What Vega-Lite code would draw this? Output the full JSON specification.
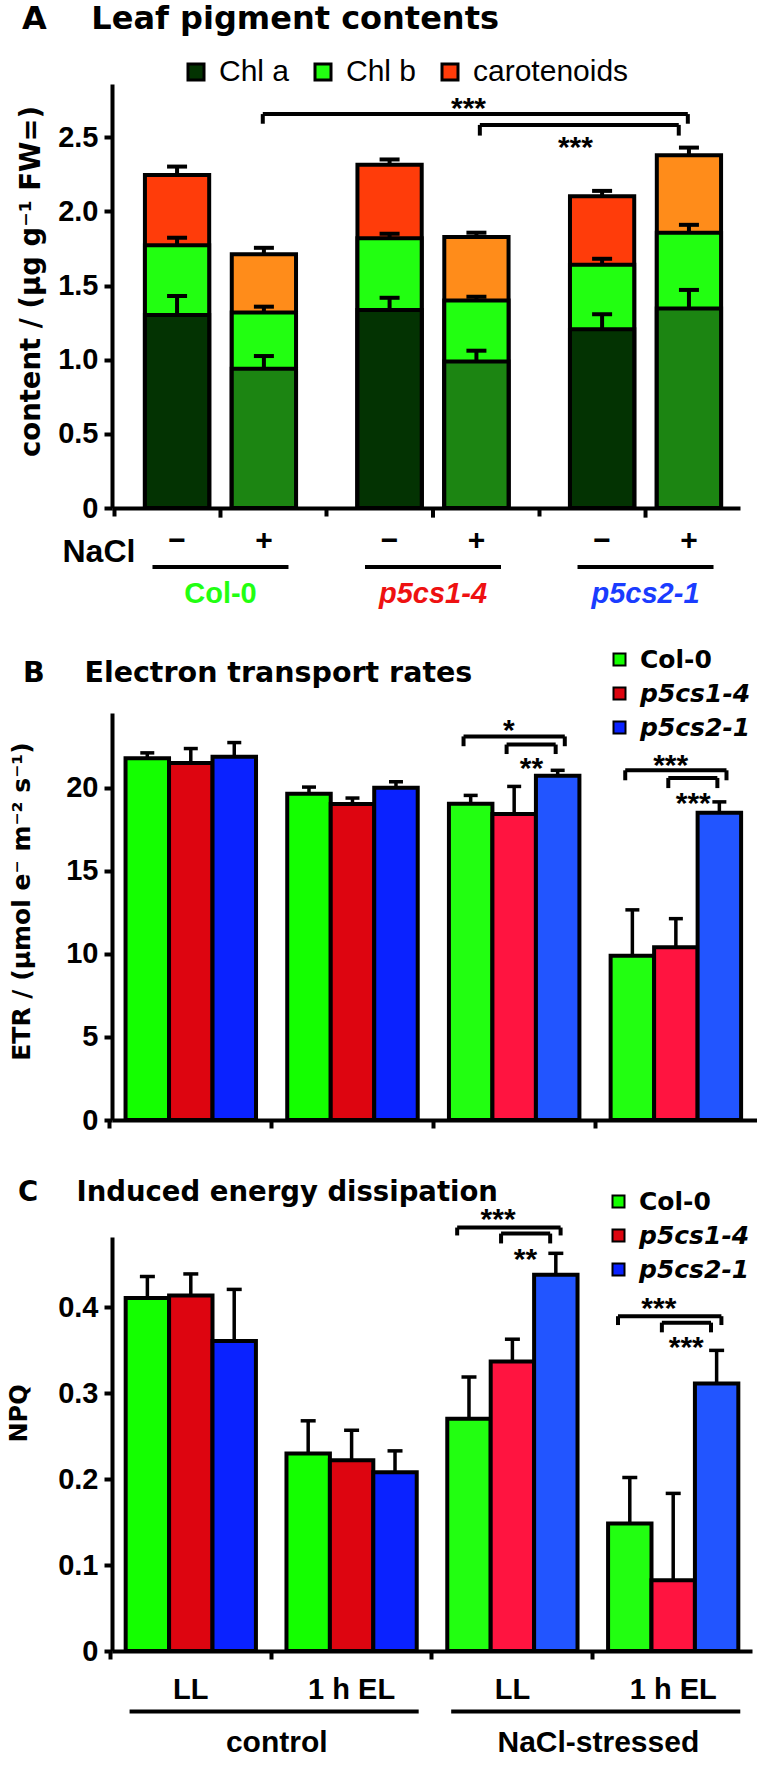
{
  "$schema": "https://vega.github.io/schema/vega-lite/v6.json",
  "background": "white",
  "padding": {"left": 7, "top": 3, "right": 0, "bottom": 0},
  "spacing": 38,
  "resolve": {"scale": {"color": "independent", "fill": "independent", "xOffset": "independent", "x": "independent", "y": "independent"}, "legend": {"color": "independent", "fill": "independent"}},
  "config": {
    "view": {"stroke": null},
    "axis": {"domainColor": "black", "domainWidth": 4, "tickColor": "black", "tickWidth": 4, "tickSize": 8, "labelFont": "Liberation Sans", "labelFontWeight": "bold", "labelFontSize": 29, "labelColor": "black", "labelPadding": 6, "titleFont": "DejaVu Sans", "titleFontWeight": "bold", "titleColor": "black", "grid": false},
    "legend": {"labelLimit": 0},
    "title": {"font": "DejaVu Sans", "fontWeight": "bold", "color": "black", "anchor": "start", "frame": "group", "baseline": "alphabetic"}
  },
  "datasets": {
    "pig": [
      {"genotype": "Col-0", "nacl": "−", "pigment": "carotenoids", "cum": 2.247, "hi": 2.303},
      {"genotype": "Col-0", "nacl": "−", "pigment": "Chl b", "cum": 1.772, "hi": 1.823},
      {"genotype": "Col-0", "nacl": "−", "pigment": "Chl a", "cum": 1.302, "hi": 1.430},
      {"genotype": "Col-0", "nacl": "+", "pigment": "carotenoids", "cum": 1.712, "hi": 1.755},
      {"genotype": "Col-0", "nacl": "+", "pigment": "Chl b", "cum": 1.319, "hi": 1.358},
      {"genotype": "Col-0", "nacl": "+", "pigment": "Chl a", "cum": 0.940, "hi": 1.025},
      {"genotype": "p5cs1-4", "nacl": "−", "pigment": "carotenoids", "cum": 2.315, "hi": 2.351},
      {"genotype": "p5cs1-4", "nacl": "−", "pigment": "Chl b", "cum": 1.820, "hi": 1.850},
      {"genotype": "p5cs1-4", "nacl": "−", "pigment": "Chl a", "cum": 1.336, "hi": 1.418},
      {"genotype": "p5cs1-4", "nacl": "+", "pigment": "carotenoids", "cum": 1.828, "hi": 1.857},
      {"genotype": "p5cs1-4", "nacl": "+", "pigment": "Chl b", "cum": 1.399, "hi": 1.425},
      {"genotype": "p5cs1-4", "nacl": "+", "pigment": "Chl a", "cum": 0.989, "hi": 1.061},
      {"genotype": "p5cs2-1", "nacl": "−", "pigment": "carotenoids", "cum": 2.103, "hi": 2.139},
      {"genotype": "p5cs2-1", "nacl": "−", "pigment": "Chl b", "cum": 1.640, "hi": 1.681},
      {"genotype": "p5cs2-1", "nacl": "−", "pigment": "Chl a", "cum": 1.206, "hi": 1.307},
      {"genotype": "p5cs2-1", "nacl": "+", "pigment": "carotenoids", "cum": 2.380, "hi": 2.431},
      {"genotype": "p5cs2-1", "nacl": "+", "pigment": "Chl b", "cum": 1.857, "hi": 1.910},
      {"genotype": "p5cs2-1", "nacl": "+", "pigment": "Chl a", "cum": 1.346, "hi": 1.471}
    ],
    "genos": [{"genotype": "Col-0"}, {"genotype": "p5cs1-4"}, {"genotype": "p5cs2-1"}],
    "etr": [
      {"cond": "control LL", "stress": "control", "genotype": "Col-0", "v": 21.78, "hi": 22.10},
      {"cond": "control LL", "stress": "control", "genotype": "p5cs1-4", "v": 21.49, "hi": 22.36},
      {"cond": "control LL", "stress": "control", "genotype": "p5cs2-1", "v": 21.87, "hi": 22.72},
      {"cond": "control 1 h EL", "stress": "control", "genotype": "Col-0", "v": 19.64, "hi": 20.04},
      {"cond": "control 1 h EL", "stress": "control", "genotype": "p5cs1-4", "v": 19.02, "hi": 19.38},
      {"cond": "control 1 h EL", "stress": "control", "genotype": "p5cs2-1", "v": 20.00, "hi": 20.36},
      {"cond": "NaCl LL", "stress": "NaCl", "genotype": "Col-0", "v": 19.04, "hi": 19.54},
      {"cond": "NaCl LL", "stress": "NaCl", "genotype": "p5cs1-4", "v": 18.42, "hi": 20.08},
      {"cond": "NaCl LL", "stress": "NaCl", "genotype": "p5cs2-1", "v": 20.73, "hi": 21.05},
      {"cond": "NaCl 1 h EL", "stress": "NaCl", "genotype": "Col-0", "v": 9.89, "hi": 12.65},
      {"cond": "NaCl 1 h EL", "stress": "NaCl", "genotype": "p5cs1-4", "v": 10.40, "hi": 12.12},
      {"cond": "NaCl 1 h EL", "stress": "NaCl", "genotype": "p5cs2-1", "v": 18.49, "hi": 19.15}
    ],
    "npq": [
      {"cond": "control LL", "stress": "control", "genotype": "Col-0", "v": 0.411, "hi": 0.436},
      {"cond": "control LL", "stress": "control", "genotype": "p5cs1-4", "v": 0.414, "hi": 0.439},
      {"cond": "control LL", "stress": "control", "genotype": "p5cs2-1", "v": 0.361, "hi": 0.421},
      {"cond": "control 1 h EL", "stress": "control", "genotype": "Col-0", "v": 0.230, "hi": 0.268},
      {"cond": "control 1 h EL", "stress": "control", "genotype": "p5cs1-4", "v": 0.222, "hi": 0.257},
      {"cond": "control 1 h EL", "stress": "control", "genotype": "p5cs2-1", "v": 0.208, "hi": 0.233},
      {"cond": "NaCl LL", "stress": "NaCl", "genotype": "Col-0", "v": 0.2705, "hi": 0.319},
      {"cond": "NaCl LL", "stress": "NaCl", "genotype": "p5cs1-4", "v": 0.337, "hi": 0.363},
      {"cond": "NaCl LL", "stress": "NaCl", "genotype": "p5cs2-1", "v": 0.438, "hi": 0.463},
      {"cond": "NaCl 1 h EL", "stress": "NaCl", "genotype": "Col-0", "v": 0.1485, "hi": 0.202},
      {"cond": "NaCl 1 h EL", "stress": "NaCl", "genotype": "p5cs1-4", "v": 0.0824, "hi": 0.1835},
      {"cond": "NaCl 1 h EL", "stress": "NaCl", "genotype": "p5cs2-1", "v": 0.3115, "hi": 0.350}
    ],
    "brA": [
      {"id": "o", "g1": "Col-0", "g2": "p5cs2-1", "sg": "p5cs1-4", "top": 2.657, "leg": 2.592, "star": "***", "sy": 2.633},
      {"id": "i", "g1": "p5cs1-4", "g2": "p5cs2-1", "sg": "p5cs2-1", "top": 2.584, "leg": 2.512, "star": "***", "sy": 2.368}
    ],
    "brB": [
      {"id": "o", "cond": "NaCl LL", "top": 23.09, "leg": 22.5, "star": "*", "sy": 22.86},
      {"id": "i", "cond": "NaCl LL", "top": 22.6, "leg": 22.03, "star": "**", "sy": 20.57},
      {"id": "o", "cond": "NaCl 1 h EL", "top": 21.05, "leg": 20.45, "star": "***", "sy": 20.75},
      {"id": "i", "cond": "NaCl 1 h EL", "top": 20.59, "leg": 19.98, "star": "***", "sy": 18.46}
    ],
    "brC": [
      {"id": "o", "cond": "NaCl LL", "top": 0.493, "leg": 0.4838, "star": "***", "sy": 0.491},
      {"id": "i", "cond": "NaCl LL", "top": 0.486, "leg": 0.4745, "star": "**", "sy": 0.445},
      {"id": "o", "cond": "NaCl 1 h EL", "top": 0.3898, "leg": 0.3795, "star": "***", "sy": 0.3877},
      {"id": "i", "cond": "NaCl 1 h EL", "top": 0.3823, "leg": 0.371, "star": "***", "sy": 0.342}
    ],
    "grp": [
      {"c1": "control LL", "c2": "control 1 h EL", "label": "control"},
      {"c1": "NaCl LL", "c2": "NaCl 1 h EL", "label": "NaCl-stressed"}
    ]
  },
  "vconcat": [
    {
      "width": 628,
      "height": 424,
      "title": {"text": "A\u00a0\u00a0\u00a0\u00a0Leaf pigment contents", "fontSize": 32, "dx": -90, "offset": 21},
      "layer": [
        {
          "data": {"name": "pig"},
          "transform": [{"filter": "datum.nacl == '−'"}],
          "mark": {"type": "bar", "stroke": "black", "strokeWidth": 4},
          "encoding": {
            "x": {"field": "genotype", "type": "nominal", "scale": {"domain": ["Col-0", "p5cs1-4", "p5cs2-1"], "paddingInner": 0.289, "paddingOuter": 0.122, "align": 0.635},
                  "axis": {"title": "NaCl", "labels": false, "bandPosition": -0.2036, "titleFont": "Liberation Sans", "titleFontSize": 32, "titleX": -50, "titleY": 43, "titleAlign": "left", "titleBaseline": "middle", "titleAnchor": "start"}},
            "xOffset": {"field": "nacl", "type": "nominal", "scale": {"domain": ["−", "+"], "paddingInner": 0.26, "paddingOuter": 0}},
            "y": {"field": "cum", "type": "quantitative", "stack": null, "scale": {"domain": [0, 2.86], "nice": false},
                  "axis": {"title": "content / (µg g⁻¹ FW=)", "values": [0, 0.5, 1, 1.5, 2, 2.5], "labelExpr": "datum.value == 0 ? '0' : format(datum.value, '.1f')", "titleFontSize": 27.5, "titleX": -81, "titleY": 197, "titleBaseline": "middle", "titleAlign": "center"}},
            "color": {"field": "pigment", "type": "nominal", "scale": {"domain": ["Chl a", "Chl b", "carotenoids"], "range": ["#033302", "#22ff11", "#ff3c0a"]},
                      "legend": {"title": null, "orient": "none", "direction": "horizontal", "legendX": 69, "legendY": -27, "labelFont": "Liberation Sans", "labelFontSize": 30, "labelFontWeight": "normal", "labelColor": "black", "symbolType": "square", "symbolSize": 256, "symbolStrokeColor": "black", "symbolStrokeWidth": 3, "symbolOpacity": 1, "columnPadding": 18, "labelOffset": 8}}
          }
        },
        {
          "data": {"name": "pig"},
          "transform": [{"filter": "datum.nacl == '+'"}],
          "mark": {"type": "bar", "stroke": "black", "strokeWidth": 4},
          "encoding": {
            "x": {"field": "genotype", "type": "nominal"},
            "xOffset": {"field": "nacl", "type": "nominal"},
            "y": {"field": "cum", "type": "quantitative", "stack": null},
            "fill": {"field": "pigment", "type": "nominal", "scale": {"domain": ["Chl a", "Chl b", "carotenoids"], "range": ["#1c8512", "#22ff11", "#ff8c1a"]}, "legend": null}
          }
        },
        {
          "data": {"name": "pig"},
          "mark": {"type": "rule", "strokeWidth": 4, "color": "black"},
          "encoding": {
            "x": {"field": "genotype", "type": "nominal"},
            "xOffset": {"field": "nacl", "type": "nominal"},
            "y": {"field": "cum", "type": "quantitative"},
            "y2": {"field": "hi"}
          }
        },
        {
          "data": {"name": "pig"},
          "mark": {"type": "tick", "thickness": 4, "size": 20, "color": "black", "opacity": 1},
          "encoding": {
            "x": {"field": "genotype", "type": "nominal"},
            "xOffset": {"field": "nacl", "type": "nominal"},
            "y": {"field": "hi", "type": "quantitative"}
          }
        },
        {
          "data": {"name": "genos"},
          "mark": {"type": "rule", "strokeWidth": 4, "color": "black"},
          "encoding": {
            "x": {"field": "genotype", "type": "nominal"},
            "y": {"datum": 0, "type": "quantitative"},
            "y2": {"datum": -0.065}
          }
        },
        {
          "data": {"name": "pig"},
          "transform": [{"filter": "datum.pigment == 'Chl a'"}],
          "mark": {"type": "text", "font": "Liberation Sans", "fontWeight": "bold", "fontSize": 30, "baseline": "middle", "color": "black"},
          "encoding": {
            "x": {"field": "genotype", "type": "nominal"},
            "xOffset": {"field": "nacl", "type": "nominal"},
            "y": {"datum": -0.225, "type": "quantitative"},
            "text": {"field": "nacl"}
          }
        },
        {
          "data": {"name": "genos"},
          "mark": {"type": "tick", "thickness": 4, "size": 136, "color": "black", "opacity": 1},
          "encoding": {
            "x": {"field": "genotype", "type": "nominal"},
            "y": {"datum": -0.398, "type": "quantitative"}
          }
        },
        {
          "data": {"name": "genos"},
          "mark": {"type": "text", "font": "Liberation Sans", "fontWeight": "bold", "fontSize": 29, "baseline": "middle", "fontStyle": {"expr": "datum.genotype == 'Col-0' ? 'normal' : 'italic'"}},
          "encoding": {
            "x": {"field": "genotype", "type": "nominal"},
            "y": {"datum": -0.58, "type": "quantitative"},
            "text": {"field": "genotype"},
            "color": {"condition": [{"test": "datum.genotype == 'Col-0'", "value": "#22ff11"}, {"test": "datum.genotype == 'p5cs1-4'", "value": "#ee1111"}], "value": "#1a3cff"}
          }
        },
        {
          "data": {"name": "brA"},
          "transform": [{"filter": "datum.id == 'o'"}],
          "mark": {"type": "rule", "strokeWidth": 4, "color": "black"},
          "encoding": {
            "x": {"field": "g1", "type": "nominal", "bandPosition": 0.78},
            "x2": {"field": "g2", "bandPosition": 0.78},
            "y": {"field": "top", "type": "quantitative"}
          }
        },
        {
          "data": {"name": "brA"},
          "transform": [{"filter": "datum.id == 'o'"}],
          "mark": {"type": "rule", "strokeWidth": 4, "color": "black"},
          "encoding": {
            "x": {"field": "g1", "type": "nominal", "bandPosition": 0.78},
            "y": {"field": "top", "type": "quantitative"},
            "y2": {"field": "leg"}
          }
        },
        {
          "data": {"name": "brA"},
          "transform": [{"filter": "datum.id == 'o'"}],
          "mark": {"type": "rule", "strokeWidth": 4, "color": "black"},
          "encoding": {
            "x": {"field": "g2", "type": "nominal", "bandPosition": 0.78},
            "y": {"field": "top", "type": "quantitative"},
            "y2": {"field": "leg"}
          }
        },
        {
          "data": {"name": "brA"},
          "transform": [{"filter": "datum.id == 'i'"}],
          "mark": {"type": "rule", "strokeWidth": 4, "color": "black"},
          "encoding": {
            "x": {"field": "g1", "type": "nominal", "bandPosition": 0.81},
            "x2": {"field": "g2", "bandPosition": 0.72},
            "y": {"field": "top", "type": "quantitative"}
          }
        },
        {
          "data": {"name": "brA"},
          "transform": [{"filter": "datum.id == 'i'"}],
          "mark": {"type": "rule", "strokeWidth": 4, "color": "black"},
          "encoding": {
            "x": {"field": "g1", "type": "nominal", "bandPosition": 0.81},
            "y": {"field": "top", "type": "quantitative"},
            "y2": {"field": "leg"}
          }
        },
        {
          "data": {"name": "brA"},
          "transform": [{"filter": "datum.id == 'i'"}],
          "mark": {"type": "rule", "strokeWidth": 4, "color": "black"},
          "encoding": {
            "x": {"field": "g2", "type": "nominal", "bandPosition": 0.72},
            "y": {"field": "top", "type": "quantitative"},
            "y2": {"field": "leg"}
          }
        },
        {
          "data": {"name": "brA"},
          "transform": [{"filter": "datum.id == 'o'"}],
          "mark": {"type": "text", "font": "Liberation Sans", "fontWeight": "bold", "fontSize": 30, "baseline": "alphabetic", "color": "black"},
          "encoding": {
            "x": {"field": "sg", "type": "nominal", "bandPosition": 0.735},
            "y": {"field": "sy", "type": "quantitative"},
            "text": {"field": "star"}
          }
        },
        {
          "data": {"name": "brA"},
          "transform": [{"filter": "datum.id == 'i'"}],
          "mark": {"type": "text", "font": "Liberation Sans", "fontWeight": "bold", "fontSize": 30, "baseline": "alphabetic", "color": "black"},
          "encoding": {
            "x": {"field": "sg", "type": "nominal", "bandPosition": 0.036},
            "y": {"field": "sy", "type": "quantitative"},
            "text": {"field": "star"}
          }
        }
      ]
    },
    {
      "width": 645,
      "height": 407,
      "title": {"text": "B\u00a0\u00a0\u00a0\u00a0Electron transport rates", "fontSize": 28.5, "dx": -89, "offset": -40},
      "layer": [
        {
          "data": {"name": "etr"},
          "transform": [{"filter": "datum.stress == 'control'"}],
          "mark": {"type": "bar", "stroke": "black", "strokeWidth": 4},
          "encoding": {
            "x": {"field": "cond", "type": "nominal", "scale": {"domain": ["control LL", "control 1 h EL", "NaCl LL", "NaCl 1 h EL"], "paddingInner": 0.193, "paddingOuter": 0.091, "align": 0.46},
                  "axis": {"title": "\u00a0", "titleFontSize": 8, "titlePadding": 2, "labels": false, "bandPosition": -0.1195}},
            "xOffset": {"field": "genotype", "type": "nominal", "scale": {"domain": ["Col-0", "p5cs1-4", "p5cs2-1"], "paddingInner": 0, "paddingOuter": 0}},
            "y": {"field": "v", "type": "quantitative", "stack": null, "scale": {"domain": [0, 24.5], "nice": false},
                  "axis": {"title": "ETR / (µmol e⁻ m⁻² s⁻¹)", "values": [0, 5, 10, 15, 20], "titleFontSize": 25, "titleX": -91, "titleY": 188, "titleBaseline": "middle", "titleAlign": "center"}},
            "color": {"field": "genotype", "type": "nominal", "scale": {"domain": ["Col-0", "p5cs1-4", "p5cs2-1"], "range": ["#14ff00", "#dd0510", "#0a22ff"]},
                      "legend": {"title": null, "orient": "none", "legendX": 495, "legendY": -66, "labelFont": "DejaVu Sans", "labelFontSize": 25, "labelFontWeight": "bold", "labelColor": "black", "symbolType": "square", "symbolSize": 144, "symbolStrokeColor": "black", "symbolStrokeWidth": 2, "symbolOpacity": 1, "rowPadding": 8, "labelOffset": 8,
                                 "encode": {"labels": {"update": {"fontStyle": {"signal": "datum.label == 'Col-0' ? 'normal' : 'italic'"}}}}}}
          }
        },
        {
          "data": {"name": "etr"},
          "transform": [{"filter": "datum.stress == 'NaCl'"}],
          "mark": {"type": "bar", "stroke": "black", "strokeWidth": 4},
          "encoding": {
            "x": {"field": "cond", "type": "nominal"},
            "xOffset": {"field": "genotype", "type": "nominal"},
            "y": {"field": "v", "type": "quantitative", "stack": null},
            "fill": {"field": "genotype", "type": "nominal", "scale": {"domain": ["Col-0", "p5cs1-4", "p5cs2-1"], "range": ["#22ff11", "#ff1440", "#2255ff"]}, "legend": null}
          }
        },
        {
          "data": {"name": "etr"},
          "mark": {"type": "rule", "strokeWidth": 3.5, "color": "black"},
          "encoding": {
            "x": {"field": "cond", "type": "nominal"},
            "xOffset": {"field": "genotype", "type": "nominal"},
            "y": {"field": "v", "type": "quantitative"},
            "y2": {"field": "hi"}
          }
        },
        {
          "data": {"name": "etr"},
          "mark": {"type": "tick", "thickness": 3.5, "size": 14, "color": "black", "opacity": 1},
          "encoding": {
            "x": {"field": "cond", "type": "nominal"},
            "xOffset": {"field": "genotype", "type": "nominal"},
            "y": {"field": "hi", "type": "quantitative"}
          }
        },
        {
          "data": {"name": "brB"},
          "transform": [{"filter": "datum.id == 'o'"}],
          "mark": {"type": "rule", "strokeWidth": 4, "color": "black"},
          "encoding": {
            "x": {"field": "cond", "type": "nominal", "bandPosition": 0.112},
            "x2": {"field": "cond", "bandPosition": 0.888},
            "y": {"field": "top", "type": "quantitative"}
          }
        },
        {
          "data": {"name": "brB"},
          "transform": [{"filter": "datum.id == 'o'"}],
          "mark": {"type": "rule", "strokeWidth": 4, "color": "black"},
          "encoding": {
            "x": {"field": "cond", "type": "nominal", "bandPosition": 0.112},
            "y": {"field": "top", "type": "quantitative"},
            "y2": {"field": "leg"}
          }
        },
        {
          "data": {"name": "brB"},
          "transform": [{"filter": "datum.id == 'o'"}],
          "mark": {"type": "rule", "strokeWidth": 4, "color": "black"},
          "encoding": {
            "x": {"field": "cond", "type": "nominal", "bandPosition": 0.888},
            "y": {"field": "top", "type": "quantitative"},
            "y2": {"field": "leg"}
          }
        },
        {
          "data": {"name": "brB"},
          "transform": [{"filter": "datum.id == 'i'"}],
          "mark": {"type": "rule", "strokeWidth": 4, "color": "black"},
          "encoding": {
            "x": {"field": "cond", "type": "nominal", "bandPosition": 0.442},
            "x2": {"field": "cond", "bandPosition": 0.818},
            "y": {"field": "top", "type": "quantitative"}
          }
        },
        {
          "data": {"name": "brB"},
          "transform": [{"filter": "datum.id == 'i'"}],
          "mark": {"type": "rule", "strokeWidth": 4, "color": "black"},
          "encoding": {
            "x": {"field": "cond", "type": "nominal", "bandPosition": 0.442},
            "y": {"field": "top", "type": "quantitative"},
            "y2": {"field": "leg"}
          }
        },
        {
          "data": {"name": "brB"},
          "transform": [{"filter": "datum.id == 'i'"}],
          "mark": {"type": "rule", "strokeWidth": 4, "color": "black"},
          "encoding": {
            "x": {"field": "cond", "type": "nominal", "bandPosition": 0.818},
            "y": {"field": "top", "type": "quantitative"},
            "y2": {"field": "leg"}
          }
        },
        {
          "data": {"name": "brB"},
          "transform": [{"filter": "datum.id == 'o'"}],
          "mark": {"type": "text", "font": "Liberation Sans", "fontWeight": "bold", "fontSize": 30, "baseline": "alphabetic", "color": "black"},
          "encoding": {
            "x": {"field": "cond", "type": "nominal", "bandPosition": 0.46},
            "y": {"field": "sy", "type": "quantitative"},
            "text": {"field": "star"}
          }
        },
        {
          "data": {"name": "brB"},
          "transform": [{"filter": "datum.id == 'i'"}],
          "mark": {"type": "text", "font": "Liberation Sans", "fontWeight": "bold", "fontSize": 30, "baseline": "alphabetic", "color": "black"},
          "encoding": {
            "x": {"field": "cond", "type": "nominal", "bandPosition": 0.633},
            "y": {"field": "sy", "type": "quantitative"},
            "text": {"field": "star"}
          }
        }
      ]
    },
    {
      "width": 640,
      "height": 414,
      "title": {"text": "C\u00a0\u00a0\u00a0\u00a0Induced energy dissipation", "fontSize": 27.5, "dx": -94, "offset": -17},
      "layer": [
        {
          "data": {"name": "npq"},
          "transform": [{"filter": "datum.stress == 'control'"}],
          "mark": {"type": "bar", "stroke": "black", "strokeWidth": 4},
          "encoding": {
            "x": {"field": "cond", "type": "nominal", "scale": {"domain": ["control LL", "control 1 h EL", "NaCl LL", "NaCl 1 h EL"], "paddingInner": 0.19, "paddingOuter": 0.085, "align": 0.5},
                  "axis": {"title": null, "labels": true, "labelAngle": 0, "bandPosition": -0.1176, "labelOffset": 0, "labelPadding": 16, "labelExpr": "replace(replace(datum.label, 'control ', ''), 'NaCl ', '')"}},
            "xOffset": {"field": "genotype", "type": "nominal", "scale": {"domain": ["Col-0", "p5cs1-4", "p5cs2-1"], "paddingInner": 0, "paddingOuter": 0}},
            "y": {"field": "v", "type": "quantitative", "stack": null, "scale": {"domain": [0, 0.482], "nice": false},
                  "axis": {"title": "NPQ", "values": [0, 0.1, 0.2, 0.3, 0.4], "labelExpr": "datum.value == 0 ? '0' : format(datum.value, '.1f')", "titleFontSize": 24, "titleX": -92.5, "titleY": 176, "titleBaseline": "middle", "titleAlign": "center"}},
            "color": {"field": "genotype", "type": "nominal", "scale": {"domain": ["Col-0", "p5cs1-4", "p5cs2-1"], "range": ["#14ff00", "#dd0510", "#0a22ff"]},
                      "legend": {"title": null, "orient": "none", "legendX": 494, "legendY": -48, "labelFont": "DejaVu Sans", "labelFontSize": 25, "labelFontWeight": "bold", "labelColor": "black", "symbolType": "square", "symbolSize": 144, "symbolStrokeColor": "black", "symbolStrokeWidth": 2, "symbolOpacity": 1, "rowPadding": 8, "labelOffset": 8,
                                 "encode": {"labels": {"update": {"fontStyle": {"signal": "datum.label == 'Col-0' ? 'normal' : 'italic'"}}}}}}
          }
        },
        {
          "data": {"name": "npq"},
          "transform": [{"filter": "datum.stress == 'NaCl'"}],
          "mark": {"type": "bar", "stroke": "black", "strokeWidth": 4},
          "encoding": {
            "x": {"field": "cond", "type": "nominal"},
            "xOffset": {"field": "genotype", "type": "nominal"},
            "y": {"field": "v", "type": "quantitative", "stack": null},
            "fill": {"field": "genotype", "type": "nominal", "scale": {"domain": ["Col-0", "p5cs1-4", "p5cs2-1"], "range": ["#22ff11", "#ff1440", "#2255ff"]}, "legend": null}
          }
        },
        {
          "data": {"name": "npq"},
          "mark": {"type": "rule", "strokeWidth": 3.5, "color": "black"},
          "encoding": {
            "x": {"field": "cond", "type": "nominal"},
            "xOffset": {"field": "genotype", "type": "nominal"},
            "y": {"field": "v", "type": "quantitative"},
            "y2": {"field": "hi"}
          }
        },
        {
          "data": {"name": "npq"},
          "mark": {"type": "tick", "thickness": 3.5, "size": 15, "color": "black", "opacity": 1},
          "encoding": {
            "x": {"field": "cond", "type": "nominal"},
            "xOffset": {"field": "genotype", "type": "nominal"},
            "y": {"field": "hi", "type": "quantitative"}
          }
        },
        {
          "data": {"name": "brC"},
          "transform": [{"filter": "datum.id == 'o'"}],
          "mark": {"type": "rule", "strokeWidth": 4, "color": "black"},
          "encoding": {
            "x": {"field": "cond", "type": "nominal", "bandPosition": 0.076},
            "x2": {"field": "cond", "bandPosition": 0.87},
            "y": {"field": "top", "type": "quantitative"}
          }
        },
        {
          "data": {"name": "brC"},
          "transform": [{"filter": "datum.id == 'o'"}],
          "mark": {"type": "rule", "strokeWidth": 4, "color": "black"},
          "encoding": {
            "x": {"field": "cond", "type": "nominal", "bandPosition": 0.076},
            "y": {"field": "top", "type": "quantitative"},
            "y2": {"field": "leg"}
          }
        },
        {
          "data": {"name": "brC"},
          "transform": [{"filter": "datum.id == 'o'"}],
          "mark": {"type": "rule", "strokeWidth": 4, "color": "black"},
          "encoding": {
            "x": {"field": "cond", "type": "nominal", "bandPosition": 0.87},
            "y": {"field": "top", "type": "quantitative"},
            "y2": {"field": "leg"}
          }
        },
        {
          "data": {"name": "brC"},
          "transform": [{"filter": "datum.id == 'i'"}],
          "mark": {"type": "rule", "strokeWidth": 4, "color": "black"},
          "encoding": {
            "x": {"field": "cond", "type": "nominal", "bandPosition": 0.413},
            "x2": {"field": "cond", "bandPosition": 0.79},
            "y": {"field": "top", "type": "quantitative"}
          }
        },
        {
          "data": {"name": "brC"},
          "transform": [{"filter": "datum.id == 'i'"}],
          "mark": {"type": "rule", "strokeWidth": 4, "color": "black"},
          "encoding": {
            "x": {"field": "cond", "type": "nominal", "bandPosition": 0.413},
            "y": {"field": "top", "type": "quantitative"},
            "y2": {"field": "leg"}
          }
        },
        {
          "data": {"name": "brC"},
          "transform": [{"filter": "datum.id == 'i'"}],
          "mark": {"type": "rule", "strokeWidth": 4, "color": "black"},
          "encoding": {
            "x": {"field": "cond", "type": "nominal", "bandPosition": 0.79},
            "y": {"field": "top", "type": "quantitative"},
            "y2": {"field": "leg"}
          }
        },
        {
          "data": {"name": "brC"},
          "transform": [{"filter": "datum.id == 'o'"}],
          "mark": {"type": "text", "font": "Liberation Sans", "fontWeight": "bold", "fontSize": 30, "baseline": "alphabetic", "color": "black"},
          "encoding": {
            "x": {"field": "cond", "type": "nominal", "bandPosition": 0.39},
            "y": {"field": "sy", "type": "quantitative"},
            "text": {"field": "star"}
          }
        },
        {
          "data": {"name": "brC"},
          "transform": [{"filter": "datum.id == 'i'"}],
          "mark": {"type": "text", "font": "Liberation Sans", "fontWeight": "bold", "fontSize": 30, "baseline": "alphabetic", "color": "black"},
          "encoding": {
            "x": {"field": "cond", "type": "nominal", "bandPosition": 0.6},
            "y": {"field": "sy", "type": "quantitative"},
            "text": {"field": "star"}
          }
        },
        {
          "data": {"name": "grp"},
          "mark": {"type": "rule", "strokeWidth": 4, "color": "black"},
          "encoding": {
            "x": {"field": "c1", "type": "nominal", "bandPosition": 0.03},
            "x2": {"field": "c2", "bandPosition": 1.015},
            "y": {"datum": -0.0703, "type": "quantitative"}
          }
        },
        {
          "data": {"name": "grp"},
          "mark": {"type": "text", "font": "Liberation Sans", "fontWeight": "bold", "fontSize": 30, "baseline": "middle", "color": "black"},
          "encoding": {
            "x": {"field": "c1", "type": "nominal", "bandPosition": 1.16},
            "y": {"datum": -0.107, "type": "quantitative"},
            "text": {"field": "label"}
          }
        }
      ]
    }
  ]
}
